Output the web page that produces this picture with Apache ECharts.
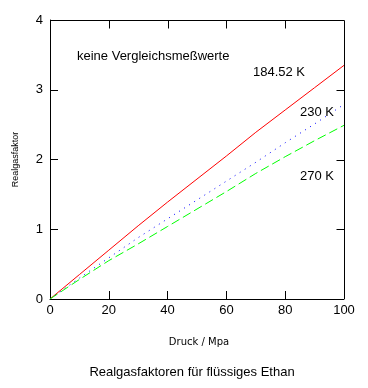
<!DOCTYPE html>
<html><head><meta charset="utf-8">
<script src="https://cdn.jsdelivr.net/npm/echarts@6/dist/echarts.min.js"></script>
<style>html,body{margin:0;padding:0;background:#fff;}#c{width:368px;height:388px;}</style>
</head><body><div id="c"></div>
<script>
const pressure = [0, 10, 20, 30, 40, 50, 60, 70, 80, 90, 100];
const z18452 = [0, 0.35, 0.70, 1.05, 1.39, 1.72, 2.05, 2.39, 2.71, 3.03, 3.35];
const z230 = [0, 0.30, 0.59, 0.88, 1.15, 1.42, 1.69, 1.96, 2.24, 2.51, 2.79];
const z270 = [0, 0.28, 0.55, 0.79, 1.04, 1.29, 1.54, 1.80, 2.04, 2.27, 2.49];
const seriesNames = ['184.52 K', '230 K', '270 K'];
const xTicks = [0, 20, 40, 60, 80, 100];
const yTicks = [0, 1, 2, 3, 4];
const title = 'Realgasfaktoren für flüssiges Ethan';
const xName = 'Druck / Mpa';
const yName = 'Realgasfaktor';
const note = 'keine Vergleichsmeßwerte';
const xMax = 100;
const yMax = 4;

const F = 'Liberation Sans, Arial, sans-serif';
const chart = echarts.init(document.getElementById('c'));
const pairs = arr => pressure.map((p, i) => [p, arr[i]]);
function ax(extra) {
  return Object.assign({
    type: 'value', min: 0, splitLine: {show: false},
    axisLine: {show: true, onZero: false, lineStyle: {color: '#000', width: 1}},
    axisTick: {show: true, inside: true, length: 8, lineStyle: {color: '#000'}}
  }, extra);
}
function txt(text, left, top, size, family, align) {
  return {text: text, left: left, top: top, padding: 0, textAlign: align || 'left',
    textStyle: {color: '#000', fontSize: size, fontWeight: 'normal', fontFamily: family || F}};
}
try {
  chart.setOption({
    animation: false,
    backgroundColor: '#fff',
    title: [
      txt(note, 77, 50, 13),
      txt(seriesNames[0], 253, 66, 13),
      txt(seriesNames[1], 300, 106, 13),
      txt(seriesNames[2], 300, 170, 13),
      txt(xName, 199, 337, 10, 'DejaVu Sans, sans-serif', 'center'),
      txt(title, 192, 366, 13, F, 'center')
    ],
    grid: {left: 50, right: 24, top: 20, bottom: 89},
    xAxis: [
      ax({max: xMax, interval: 20, position: 'bottom',
        axisLabel: {color: '#000', fontSize: 13, fontFamily: F, margin: 5}})
    ],
    yAxis: [
      ax({max: yMax, interval: 1, position: 'left', name: yName, nameLocation: 'middle', nameGap: 30,
        nameTextStyle: {color: '#000', fontSize: 9, fontFamily: F},
        axisLabel: {color: '#000', fontSize: 13, fontFamily: F, margin: 7}})
    ],
    series: [
      {name: seriesNames[0], type: 'line', data: pairs(z18452), showSymbol: false,
        lineStyle: {color: '#ff0000', width: 1, type: 'solid'}},
      {name: seriesNames[1], type: 'line', data: pairs(z230), showSymbol: false,
        lineStyle: {color: '#0000ff', width: 1, type: [1, 5]}},
      {name: seriesNames[2], type: 'line', data: pairs(z270), showSymbol: false,
        lineStyle: {color: '#00ff00', width: 1, type: [9, 4]}}
    ]
  });
} catch (e) {}

// Frame (top and right edges) with inward ticks, placed through the chart's own scales.
try {
  const px = (x, y) => chart.convertToPixel({gridIndex: 0}, [x, y]);
  const crisp = v => Math.round(v) + 0.5;
  const tl = px(0, yMax), br = px(xMax, 0);
  const top = crisp(tl[1]), right = crisp(br[0]);
  const L = (x1, y1, x2, y2) => ({type: 'line', silent: true, z: 100,
    shape: {x1: x1, y1: y1, x2: x2, y2: y2}, style: {stroke: '#000', lineWidth: 1}});
  const els = [L(tl[0], top, right, top), L(right, top, right, br[1])];
  xTicks.slice(1, -1).forEach(t => { const x = crisp(px(t, 0)[0]); els.push(L(x, top, x, top + 8)); });
  yTicks.slice(1, -1).forEach(t => { const y = crisp(px(0, t)[1]); els.push(L(right - 8, y, right, y)); });
  chart.setOption({graphic: {elements: els}});
} catch (e) {}
</script></body></html>
